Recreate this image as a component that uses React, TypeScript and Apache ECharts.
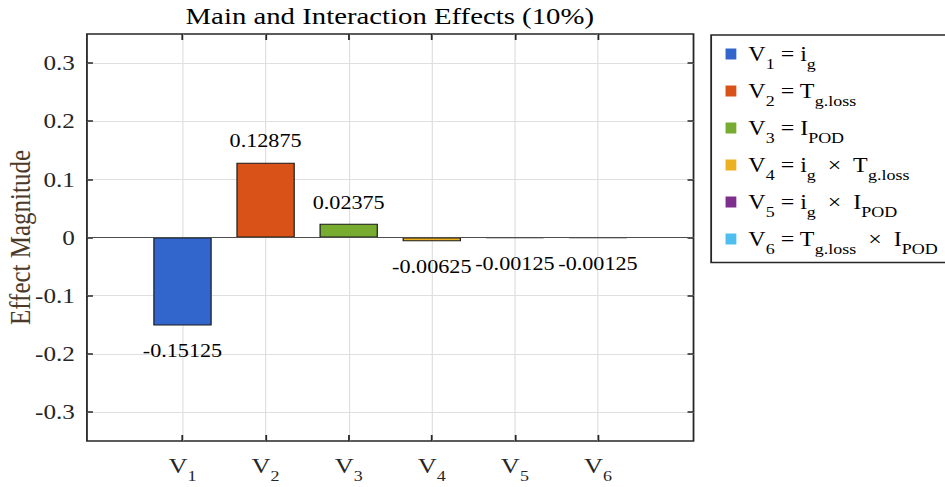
import React, { useEffect, useRef } from "react";
import * as echarts from "echarts";

// Effect sizes per variable / interaction
const categories = ["V1", "V2", "V3", "V4", "V5", "V6"];
const subscripts = ["1", "2", "3", "4", "5", "6"];
const effects = [-0.15125, 0.12875, 0.02375, -0.00625, -0.00125, -0.00125];
const barColors = ["#3366CC", "#D95319", "#77AC30", "#EDB120", "#7E2F8E", "#4DBEEE"];
// Legend descriptions, rich-text encoded (f = first glyph, n = normal, s = subscript)
const legendLabels = [
  "{f|V}{s|1}{n| = i}{s|g}",
  "{f|V}{s|2}{n| = T}{s|g.loss}",
  "{f|V}{s|3}{n| = I}{s|POD}",
  "{f|V}{s|4}{n| = i}{s|g}{n|  ×  T}{s|g.loss}",
  "{f|V}{s|5}{n| = i}{s|g}{n|  ×  I}{s|POD}",
  "{f|V}{s|6}{n| = T}{s|g.loss}{n|  ×  I}{s|POD}",
];
const yTicks = [-0.3, -0.2, -0.1, 0, 0.1, 0.2, 0.3];
const xTicks = [1, 2, 3, 4, 5, 6];

const FONT = "Liberation Serif";
const INK = "#262626";

// The figure is laid out on a narrower canvas and widened horizontally.
const W = 788;
const H = 487;

const richSub = {
  f: { fontFamily: FONT, fontSize: 20, color: "#000", padding: [0, 0, 0, 5] },
  n: { fontFamily: FONT, fontSize: 20, color: "#000" },
  s: { fontFamily: FONT, fontSize: 15, color: "#000", padding: [20, 0, 0, 0] },
};
const richTick = {
  n: { fontFamily: FONT, fontSize: 22, color: INK },
  s: { fontFamily: FONT, fontSize: 15, color: INK, padding: [22, 0, 0, 0] },
};

export default function App() {
  const ref = useRef<HTMLDivElement>(null);

  useEffect(() => {
    const chart = echarts.init(ref.current!, null, { renderer: "svg" });

    const series = categories.map((name, i) => ({
      type: "bar",
      name: legendLabels[i],
      data: [[xTicks[i], effects[i]]],
      barWidth: 48.7,
      barGap: "-100%",
      itemStyle: { color: barColors[i], borderColor: "#1a1a1a", borderWidth: 1 },
      label: {
        show: true,
        position: effects[i] >= 0 ? "top" : "bottom",
        distance: effects[i] >= 0 ? 12 : 16,
        formatter: () => String(effects[i]),
        fontFamily: FONT,
        fontSize: 18.5,
        color: "#000",
      },
      z: 3,
      ...(i === 0
        ? {
            markLine: {
              silent: true,
              symbol: "none",
              label: { show: false },
              lineStyle: { color: "#4d4d4d", width: 1.2, type: "solid" },
              data: [{ yAxis: 0 }],
            },
          }
        : {}),
    }));

    const xBase = {
      type: "value",
      min: -0.15,
      max: 7.15,
      axisLine: { show: false, onZero: false },
      splitLine: { show: false },
      axisTick: { show: true, inside: true, length: 6, customValues: xTicks, lineStyle: { color: INK, width: 1.5 } },
    };
    const yBase = {
      type: "value",
      min: -0.35,
      max: 0.35,
      axisLine: { show: false, onZero: false },
      axisTick: { show: true, inside: true, length: 5, customValues: yTicks, lineStyle: { color: INK, width: 1.5 } },
    };

    chart.setOption({
      animation: false,
      backgroundColor: "#fff",
      grid: {
        left: 72.5,
        right: 209.7,
        top: 34,
        bottom: 46,
        show: true,
        borderColor: INK,
        borderWidth: 1.5,
        backgroundColor: "transparent",
        containLabel: false,
        outerBoundsMode: "none",
      },
      graphic: [
        {
          type: "text",
          x: 325,
          y: 16,
          style: {
            text: "Main and Interaction Effects (10%)",
            fontFamily: FONT,
            fontSize: 24,
            fill: "#000",
            textAlign: "center",
            textVerticalAlign: "middle",
          },
        },
      ],
      legend: {
        orient: "vertical",
        left: 593,
        top: 35,
        padding: [9, 8, 6, 12],
        itemGap: 9.5,
        itemWidth: 9,
        itemHeight: 11,
        icon: "rect",
        borderColor: INK,
        borderWidth: 1.5,
        backgroundColor: "#fff",
        itemStyle: { borderWidth: 0 },
        textStyle: { rich: richSub },
        formatter: (name: string) => name,
        data: legendLabels,
      },
      xAxis: [
        {
          ...xBase,
          position: "bottom",
          splitLine: { show: true, lineStyle: { color: "#dfdfdf", width: 1 } },
          axisLabel: {
            show: true,
            customValues: xTicks,
            margin: 6,
            formatter: (v: number) => `{n|V}{s|${subscripts[Math.round(v) - 1]}}`,
            rich: richTick,
          },
        },
        { ...xBase, position: "top", axisLabel: { show: false } },
      ],
      yAxis: [
        {
          ...yBase,
          position: "left",
          name: "Effect Magnitude",
          nameLocation: "middle",
          nameGap: 44,
          nameMoveOverlap: false,
          nameTextStyle: { fontFamily: FONT, fontSize: 25, color: "#4b3a2a" },
          splitLine: { show: true, lineStyle: { color: "#dfdfdf", width: 1 } },
          axisLabel: {
            show: true,
            customValues: yTicks,
            margin: 10,
            fontFamily: FONT,
            fontSize: 21,
            color: INK,
            formatter: (v: number) => (Math.abs(v) < 1e-9 ? "0" : v.toFixed(1)),
          },
        },
        { ...yBase, position: "right", splitLine: { show: false }, axisLabel: { show: false } },
      ],
      series,
    });

    return () => chart.dispose();
  }, []);

  return (
    <div style={{ position: "absolute", left: 0, top: 0, width: 945, height: H, overflow: "hidden", background: "#fff" }}>
      <div
        ref={ref}
        style={{
          width: W,
          height: H,
          transform: `scaleX(${945 / W})`,
          transformOrigin: "0 0",
        }}
      />
    </div>
  );
}
